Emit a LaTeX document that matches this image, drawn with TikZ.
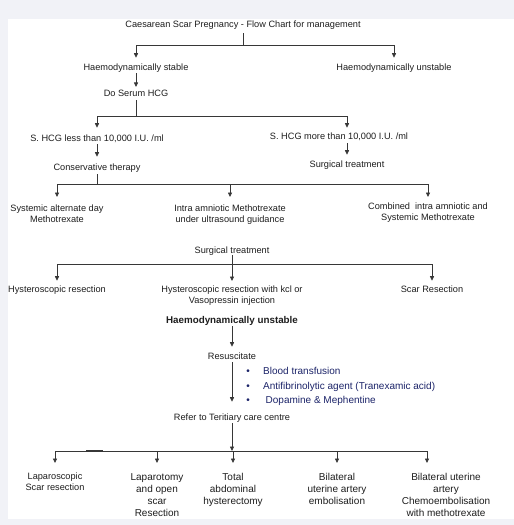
\documentclass[tikz,border=0pt]{standalone}
\usepackage{fontspec}
\setmainfont{Liberation Sans}
\usetikzlibrary{arrows.meta}
\definecolor{bgc}{RGB}{241,242,247}
\definecolor{navy}{RGB}{28,36,105}
\definecolor{ink}{RGB}{30,30,30}
\definecolor{ln}{RGB}{55,55,55}
\newcommand\fsA{\fontsize{9.2}{11}\selectfont}
\newcommand\fsB{\fontsize{10}{12}\selectfont}
\newcommand\fsC{\bfseries\fontsize{9.8}{11.5}\selectfont}
\begin{document}
\begin{tikzpicture}[x=1pt,y=-1pt,
 lbl/.style={font=\fsA, text=ink, inner sep=0pt, text depth=0pt, anchor=base},
 mlbl/.style={font=\fsA, text=ink, inner sep=0pt, align=center, anchor=north},
 blbl/.style={mlbl, font=\fsB},
 btxt/.style={lbl, font=\fsB, text=navy, anchor=base west},
 bdot/.style={lbl, font=\fsB, text=navy},
 wire/.style={draw=ln, line width=0.8pt},
 arr/.style={wire, -{Triangle[length=4.5pt,width=4pt]}},
 gin/.style={shorten >=#1pt},
 gout/.style={shorten <=#1pt},
]
\useasboundingbox (0,0) rectangle (514,525);
\fill[bgc] (0,0) rectangle (514,525);
\fill[white] (8,19) rectangle (514,519);

% nodes
\node[lbl] (title) at (243,27.3) {Caesarean Scar Pregnancy - Flow Chart for management};
\node[lbl] (stable) at (136,70.3) {Haemodynamically stable};
\node[lbl] (unstable) at (394,70.3) {Haemodynamically unstable};
\node[lbl] (serum) at (136,96.3) {Do Serum HCG};
\node[lbl] (less) at (97,141.3) {S. HCG less than 10,000 I.U. /ml};
\node[lbl] (more) at (339,139.3) {S. HCG more than 10,000 I.U. /ml};
\node[lbl] (cons) at (97,170.3) {Conservative therapy};
\node[lbl] (surg1) at (347,167.3) {Surgical treatment};
\node[mlbl] (sys) at (57,204.7) {Systemic alternate day\\Methotrexate};
\node[mlbl] (intra) at (230,204.7) {Intra amniotic Methotrexate\\under ultrasound guidance};
\node[mlbl] (comb) at (428,202.7) {Combined\ \ intra amniotic and\\Systemic Methotrexate};
\node[lbl] (surg2) at (232,253.3) {Surgical treatment};
\node[lbl] (hys1) at (57,292.3) {Hysteroscopic resection};
\node[mlbl] (hys2) at (232,285.7) {Hysteroscopic resection with kcl or\\Vasopressin injection};
\node[lbl] (scar) at (432,292.3) {Scar Resection};
\node[lbl, font=\fsC] (hu) at (232,323.5) {Haemodynamically unstable};
\node[lbl] (resus) at (232,359.3) {Resuscitate};
\node[bdot] (b1) at (248,374.6) {\textbullet};
\node[bdot] (b2) at (248,389.6) {\textbullet};
\node[bdot] (b3) at (248,403.6) {\textbullet};
\node[btxt] (bt1) at (263,374.6) {Blood transfusion};
\node[btxt] (bt2) at (263,389.6) {Antifibrinolytic agent (Tranexamic acid)};
\node[btxt] (bt3) at (265.5,403.6) {Dopamine \& Mephentine};
\node[lbl] (refer) at (232,420.3) {Refer to Teritiary care centre};
\node[mlbl] (lap) at (55,472.7) {Laparoscopic\\Scar resection};
\node[blbl] (lapo) at (157,473.4) {Laparotomy\\and open\\scar\\Resection};
\node[blbl] (tah) at (233,473.4) {Total\\abdominal\\hysterectomy};
\node[blbl] (bil) at (337,473.4) {Bilateral\\uterine artery\\embolisation};
\node[blbl] (bilc) at (446,473.4) {Bilateral uterine\\artery\\Chemoembolisation\\with methotrexate};

% junctions
\coordinate (j1) at (243,45);
\coordinate (j2) at (136,116);
\coordinate (j3) at (97,184);
\coordinate (j4) at (232,264);
\coordinate (j5) at (232,451);

% connectors
\draw[wire, gout=5.7] (title.south) -- (j1);
\draw[arr, gin=5.7] (j1) -| (stable.north);
\draw[arr, gin=5.7] (j1) -| (unstable.north);
\draw[arr, gout=2.7, gin=2.7] (stable.south) -- (serum.north);
\draw[wire, gout=3.7] (serum.south) -- (j2);
\draw[arr, gin=6.7] (j2) -| (less.north);
\draw[arr, gin=4.7] (j2) -| ([xshift=8pt]more.north);
\draw[arr, gout=2.7, gin=6.7] (less.south) -- (cons.north);
\draw[arr, gout=3.7, gin=5.7] ([xshift=8pt]more.south) -- (surg1.north);
\draw[wire, gout=3.7] (cons.south) -- (j3);
\draw[arr, gin=7.7] (j3) -| (sys.north);
\draw[arr, gin=7.7] (j3) -| (intra.north);
\draw[arr, gin=5.7] (j3) -| (comb.north);
\draw[wire, gout=1.7] (surg2.south) -- (j4);
\draw[arr, gin=4.7] (j4) -| (hys1.north);
\draw[arr, gin=4.7] (j4) -- (hys2.north);
\draw[arr, gin=4.7] (j4) -| (scar.north);
\draw[arr, gout=2.7, gin=5.7] (hu.south) -- (resus.north);
\draw[arr, gout=2.7, gin=11.7] (resus.south) -- (refer.north);
\draw[arr, gout=2.7] (refer.south) -- (j5);
\draw[arr, gin=9.7] (j5) -| (lap.north);
\draw[arr, gin=10.4] (j5) -| (lapo.north);
\draw[arr, gin=10.4] (j5) -| (tah.north);
\draw[arr, gin=10.4] (j5) -| (bil.north);
\draw[arr, gin=10.4] (j5) -| ([xshift=-19pt]bilc.north);
\draw[ln, line width=1.5pt] (86,451) -- (103,451);
\end{tikzpicture}
\end{document}
